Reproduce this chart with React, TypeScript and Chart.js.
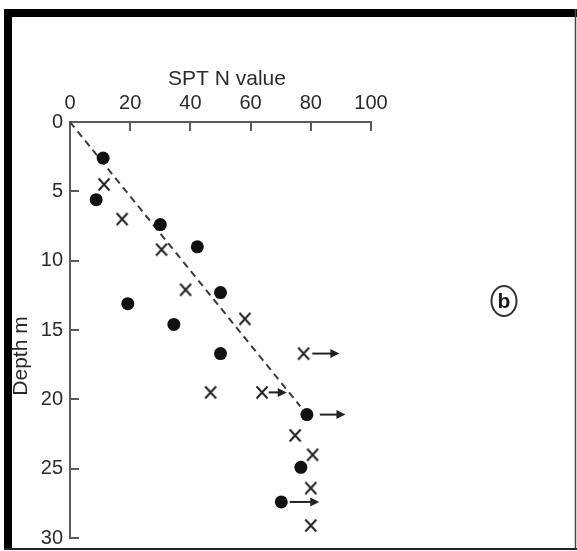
import React, { useEffect, useRef } from "react";
import { Chart, registerables } from "chart.js";

Chart.register(...registerables);

const nTicks = [0, 20, 40, 60, 80, 100];
const depthTicks = [0, 5, 10, 15, 20, 25, 30];

const circleN = [11, 8.7, 30, 42.3, 50, 19.2, 34.5, 50, 78.7, 76.7, 70.2];
const circleDepth = [2.6, 5.6, 7.4, 9.0, 12.3, 13.1, 14.6, 16.7, 21.1, 24.9, 27.4];

const crossN = [11.3, 17.3, 30.4, 38.4, 58.1, 77.6, 46.7, 63.8, 74.8, 80.6, 80.0, 80.0];
const crossDepth = [4.5, 7.0, 9.2, 12.1, 14.2, 16.7, 19.5, 19.5, 22.6, 24.0, 26.4, 29.1];

const trendN = [0, 76.5];
const trendDepth = [0, 20.5];

const arrowDepth = [16.7, 19.5, 21.1, 27.4];
const arrowFromN = [80.5, 66, 83, 73];
const arrowToN = [89.5, 72, 91.5, 82.8];

const xTitle = "SPT N value";
const yTitle = "Depth m";
const panelLetter = "b";

const FONT = '"Liberation Sans", Arial, Helvetica, sans-serif';

function makeCross(): HTMLCanvasElement {
  const c = document.createElement("canvas");
  c.width = 14;
  c.height = 15;
  const ctx = c.getContext("2d")!;
  ctx.strokeStyle = "#222";
  ctx.lineWidth = 2;
  ctx.lineCap = "butt";
  ctx.beginPath();
  ctx.moveTo(1.5, 1.5);
  ctx.lineTo(12.5, 13.5);
  ctx.moveTo(12.5, 1.5);
  ctx.lineTo(1.5, 13.5);
  ctx.stroke();
  return c;
}

const decor = {
  id: "decor",
  beforeDraw(chart: any) {
    const { ctx, width, height } = chart;
    ctx.save();
    ctx.fillStyle = "#fff";
    ctx.fillRect(0, 0, width, height);
    // frame
    ctx.fillStyle = "#000";
    ctx.fillRect(4, 9, width - 4, 8);
    ctx.fillRect(4, 9, 8, 541);
    ctx.strokeStyle = "#444";
    ctx.lineWidth = 1.5;
    ctx.beginPath();
    ctx.moveTo(575.5, 9);
    ctx.lineTo(575.5, 549);
    ctx.stroke();
    ctx.strokeStyle = "#222";
    ctx.lineWidth = 2;
    ctx.beginPath();
    ctx.moveTo(4, 549);
    ctx.lineTo(577, 549);
    ctx.stroke();
    ctx.restore();
  },
  afterDraw(chart: any) {
    const { ctx, chartArea } = chart;
    const xs = chart.scales.x;
    const ys = chart.scales.y;
    ctx.save();
    // inward tick marks
    ctx.strokeStyle = "#5a5a5a";
    ctx.lineWidth = 2;
    ctx.beginPath();
    xs.ticks.forEach((t: any) => {
      if (t.value === 0) return;
      const px = Math.round(xs.getPixelForValue(t.value));
      ctx.moveTo(px, chartArea.top);
      ctx.lineTo(px, chartArea.top + 9);
    });
    ys.ticks.forEach((t: any) => {
      if (t.value === 0) return;
      const py = Math.round(ys.getPixelForValue(t.value));
      ctx.moveTo(chartArea.left, py);
      ctx.lineTo(chartArea.left + 9, py);
    });
    ctx.stroke();

    // arrows
    ctx.strokeStyle = "#222";
    ctx.fillStyle = "#222";
    ctx.lineWidth = 2;
    arrowDepth.forEach((d, i) => {
      const y = ys.getPixelForValue(d);
      const x0 = xs.getPixelForValue(arrowFromN[i]);
      const x1 = xs.getPixelForValue(arrowToN[i]);
      const head = 9;
      ctx.beginPath();
      ctx.moveTo(x0, y);
      ctx.lineTo(x1 - head + 1, y);
      ctx.stroke();
      ctx.beginPath();
      ctx.moveTo(x1, y);
      ctx.lineTo(x1 - head, y - 4.5);
      ctx.lineTo(x1 - head, y + 4.5);
      ctx.closePath();
      ctx.fill();
    });

    // titles
    ctx.fillStyle = "#2a2a2a";
    ctx.font = `21px ${FONT}`;
    ctx.textAlign = "center";
    ctx.textBaseline = "middle";
    ctx.fillText(xTitle, chartArea.left + 157, chartArea.top - 43);
    ctx.save();
    ctx.translate(chartArea.left - 49, chartArea.top + 234);
    ctx.rotate(-Math.PI / 2);
    ctx.fillText(yTitle, 0, 0);
    ctx.restore();

    // circled panel letter
    const cx = chartArea.right + 133;
    const cy = chartArea.top + 179;
    ctx.strokeStyle = "#333";
    ctx.lineWidth = 2;
    ctx.beginPath();
    ctx.ellipse(cx, cy, 12.5, 15, 0, 0, Math.PI * 2);
    ctx.stroke();
    ctx.fillStyle = "#1a1a1a";
    ctx.font = `bold 21px ${FONT}`;
    ctx.fillText(panelLetter, cx, cy + 1);
    ctx.restore();
  },
};

export default function App() {
  const ref = useRef<HTMLCanvasElement>(null);
  useEffect(() => {
    const canvas = ref.current!;
    const crossImg = makeCross();
    const tickFont = { family: FONT, size: 20 };
    const chart = new Chart(canvas, {
      type: "scatter",
      data: {
        datasets: [
          {
            label: "trend",
            data: trendN.map((n, i) => ({ x: n, y: trendDepth[i] })),
            showLine: true,
            borderColor: "#3a3a3a",
            borderWidth: 2,
            borderDash: [7, 5],
            pointRadius: 0,
            order: 3,
          } as any,
          {
            label: "circles",
            data: circleN.map((n, i) => ({ x: n, y: circleDepth[i] })),
            pointStyle: "circle",
            pointRadius: 6.5,
            backgroundColor: "#111",
            borderColor: "#111",
            borderWidth: 0,
            order: 1,
          },
          {
            label: "crosses",
            data: crossN.map((n, i) => ({ x: n, y: crossDepth[i] })),
            pointStyle: crossImg,
            pointRadius: 7,
            order: 2,
          } as any,
        ],
      },
      options: {
        responsive: false,
        animation: false,
        events: [],
        layout: { padding: { left: 20, right: 206, top: 20, bottom: 13 } },
        plugins: { legend: { display: false }, tooltip: { enabled: false } },
        scales: {
          x: {
            type: "linear",
            position: "top",
            min: 0,
            max: 100,
            afterBuildTicks: (s: any) => {
              s.ticks = nTicks.map((v) => ({ value: v }));
            },
            afterFit: (s: any) => {
              s.height = 102;
              s.paddingLeft = 0;
              s.paddingRight = 0;
            },
            ticks: { font: tickFont, color: "#2a2a2a", padding: 7 },
            grid: { display: true, drawOnChartArea: false, drawTicks: false },
            border: { display: true, color: "#5a5a5a", width: 2 },
          },
          y: {
            type: "linear",
            reverse: true,
            min: 0,
            max: 30,
            afterBuildTicks: (s: any) => {
              s.ticks = depthTicks.map((v) => ({ value: v }));
            },
            afterFit: (s: any) => {
              s.width = 50;
              s.paddingTop = 0;
              s.paddingBottom = 0;
            },
            ticks: { font: tickFont, color: "#2a2a2a", padding: 7 },
            grid: { display: true, drawOnChartArea: false, drawTicks: false },
            border: { display: true, color: "#5a5a5a", width: 2 },
          },
        },
      } as any,
      plugins: [decor],
    });
    return () => chart.destroy();
  }, []);
  return (
    <div style={{ position: "fixed", left: 0, top: 0, width: 577, height: 551, background: "#fff" }}>
      <canvas ref={ref} width={577} height={551} style={{ display: "block" }} />
    </div>
  );
}
